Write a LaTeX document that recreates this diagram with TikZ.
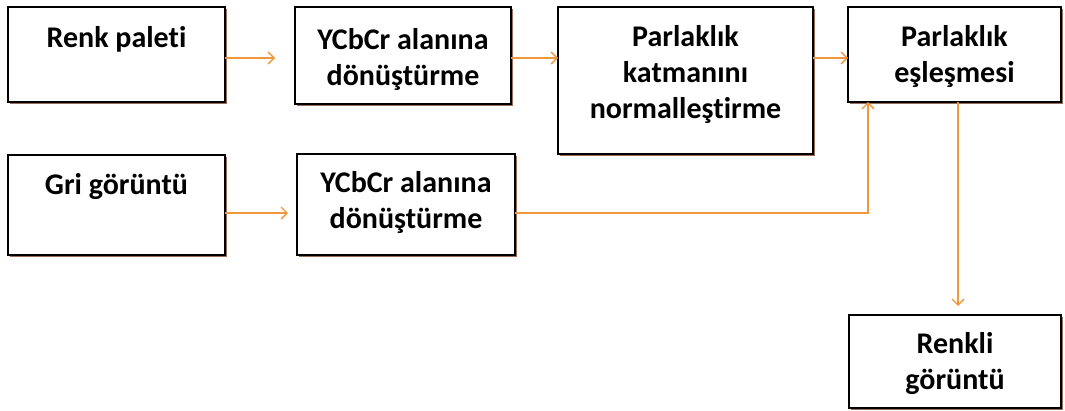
\documentclass[tikz,border=0pt]{standalone}
\usepackage{fontspec}
\setmainfont[Ligatures=NoCommon]{Carlito}
\usetikzlibrary{arrows.meta,shadows}
\definecolor{arrorange}{RGB}{240,150,60}
\definecolor{shadowbrown}{RGB}{150,110,90}
\tikzset{
  box/.style={draw=black, line width=1.2pt, fill=white, inner sep=0pt, outer sep=0pt, anchor=north west,
    drop shadow={shadow xshift=1.6pt, shadow yshift=-1.6pt, fill=shadowbrown, opacity=1}},
  lbl/.style={font={\bfseries\fontsize{30}{36}\selectfont}, align=center, inner sep=0pt, anchor=north},
  arr/.style={draw=arrorange, line width=1.3pt, -{Straight Barb[length=6pt,width=12pt]}}
}
\begin{document}
\begin{tikzpicture}[x=1pt,y=-1pt]
\useasboundingbox[fill=white] (0,0) rectangle (1065,410);
% boxes
\node[box, minimum width=217pt, minimum height=95pt] (b1) at (8,7) {};
\node[box, minimum width=216pt, minimum height=97pt] (b2) at (295,7) {};
\node[box, minimum width=255pt, minimum height=147pt] (b3) at (558,7) {};
\node[box, minimum width=213pt, minimum height=95pt] (b4) at (848,7) {};
\node[box, minimum width=217pt, minimum height=100pt] (b5) at (8,155) {};
\node[box, minimum width=218pt, minimum height=101pt] (b6) at (297,154) {};
\node[box, minimum width=212pt, minimum height=93pt] (b7) at (849,315) {};
% labels
\node[lbl] (t1) at (116.5,26) {Renk paleti};
\node[lbl] (t2) at (403,28) {YCbCr alanına\\dönüştürme};
\node[lbl] (t3) at (685.5,25) {Parlaklık\\katmanını\\normalleştirme};
\node[lbl] (t4) at (954.5,25) {Parlaklık\\eşleşmesi};
\node[lbl] (t5) at (116.5,173) {Gri görüntü};
\node[lbl] (t6) at (406,171) {YCbCr alanına\\dönüştürme};
\node[lbl] (t7) at (955,332) {Renkli\\görüntü};
% connectors
\draw[arr, shorten >=20pt] ([yshift=-3.5pt]b1.east) -- ([yshift=-3.5pt]b1.east -| b2.west);
\draw[arr] ([yshift=-2.5pt]b2.east) -- ([yshift=-2.5pt]b2.east -| b3.west);
\draw[arr] ([yshift=-3.5pt]b4.west -| b3.east) -- ([yshift=-3.5pt]b4.west);
\draw[arr, shorten >=9pt] ([yshift=-8pt]b5.east) -- ([yshift=-8pt]b5.east -| b6.west);
\draw[arr] ([yshift=-8.5pt]b6.east) -| ([xshift=20pt]b4.south west);
\draw[arr, shorten >=9pt] ([xshift=3.5pt]b4.south) -- ([xshift=3.5pt]b4.south |- b7.north);
\end{tikzpicture}
\end{document}
